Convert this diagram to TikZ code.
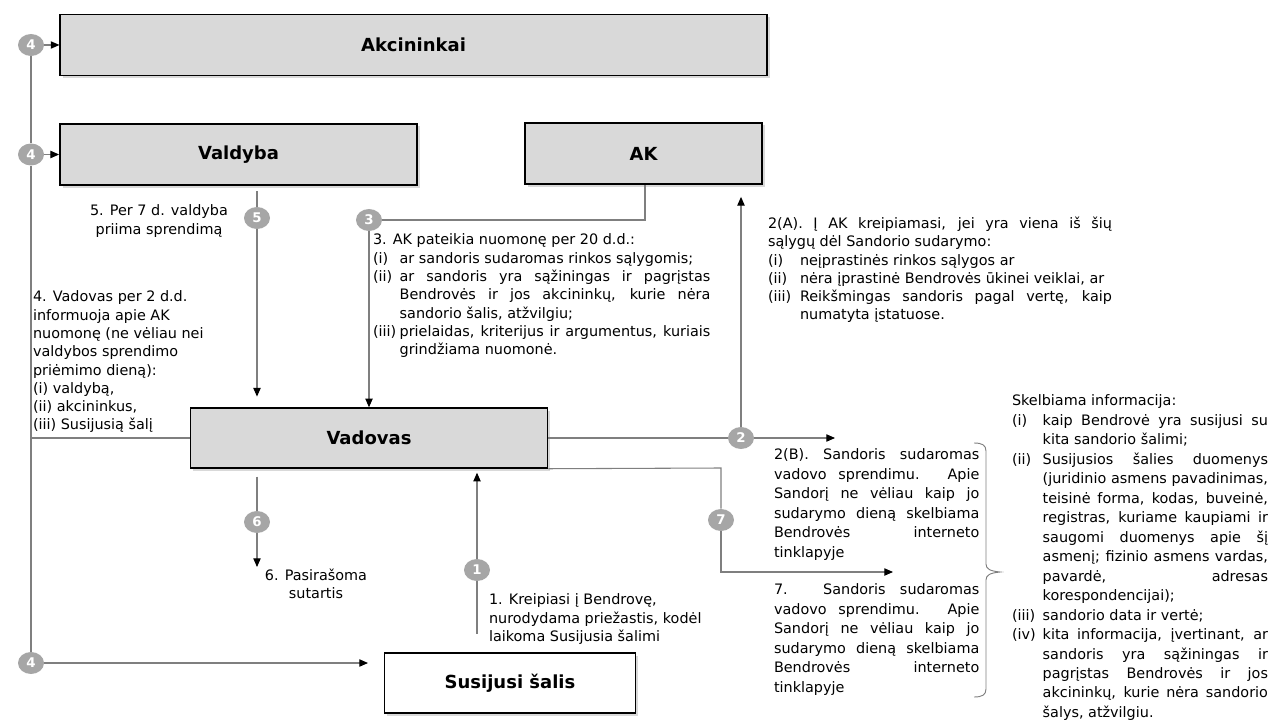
\documentclass[tikz,border=0pt]{standalone}
\usepackage{fontspec}
\setmainfont{DejaVu Sans}
\newfontfamily\boldlab{DejaVu Sans}
\usetikzlibrary{arrows.meta,shadows,shapes.geometric}
\definecolor{boxgray}{RGB}{217,217,217}
\definecolor{badgegray}{RGB}{166,166,166}
\definecolor{linegray}{RGB}{127,127,127}
\setlength\parindent{0pt}
\newcommand\li[2]{\par\leftskip=#1\relax\noindent\llap{\makebox[#1][l]{#2}}\ignorespaces}
\tikzset{
  box/.style={draw=black, line width=1.1pt, fill=boxgray,
    drop shadow={shadow xshift=2pt, shadow yshift=-2pt, opacity=0.3},
    font=\boldlab\bfseries\fontsize{13.5}{15}\selectfont, inner sep=0pt},
  badge/.style={ellipse, fill=badgegray, text=white, minimum width=19.5pt, minimum height=16.5pt,
    inner sep=0pt, font=\boldlab\bfseries\fontsize{10}{10}\selectfont},
  conn/.style={draw=linegray, line width=0.8pt},
  arr/.style={conn, -{Triangle[length=6.5pt,width=5.5pt,color=black]}},
  txt/.style={font=\fontsize{10.8}{13.7}\selectfont, inner sep=0pt, outer sep=0pt},
  jtxt/.style={txt, align=justify, anchor=north west,
    execute at begin node={\tolerance=10000\hbadness=10000\leftskip=0pt\noindent}},
  wide/.style={font=\fontsize{10.8}{14.6}\selectfont},
}
\begin{document}
\begin{tikzpicture}[x=0.75pt,y=-0.75pt]
\useasboundingbox (0,0) rectangle (1270,720);
% boxes
\node[box, minimum width=530pt, minimum height=46pt] (akc) at (413.5,45) {Akcininkai};
\node[box, minimum width=268pt, minimum height=46pt] (val) at (238.5,154.5) {Valdyba};
\node[box, minimum width=178pt, minimum height=46pt] (ak) at (643.5,153.5) {AK};
\node[box, minimum width=268pt, minimum height=45pt] (vad) at (369,438) {Vadovas};
\node[box, fill=white, minimum width=188pt, minimum height=45pt] (sus) at (510,683) {Susijusi šalis};
% badges
\node[badge] (b4a) at (31,45) {4};
\node[badge] (b4b) at (31,154.5) {4};
\node[badge] (b4c) at (31,663) {4};
\node[badge] (b5) at (257,218) {5};
\node[badge] (b3) at (369,220) {3};
\node[badge] (b2) at (741,438) {2};
\node[badge] (b6) at (257,522) {6};
\node[badge] (b1) at (477,570) {1};
\node[badge] (b7) at (721,520) {7};
% free ends
\coordinate (k3) at (645,220);
\coordinate (t2) at (835,438);
\coordinate (k7) at (721,468);
\coordinate (t7) at (893,572);
\coordinate (t6) at (257,567);
\coordinate (t4) at (368,663);
% connectors
\draw[conn] (b4a) -- (b4b);
\draw[conn] (b4b) -- (b4c);
\draw[arr] (b4a) -- (akc.west);
\draw[arr] (b4b) -- (val.west);
\draw[conn] (vad.west) -- (vad.west -| b4a);
\draw[arr] (b4c) -- (t4);
\draw[conn, shorten <=4pt] (b5 |- val.south) -- (b5);
\draw[arr, shorten >=8pt] (b5) -- (b5 |- vad.north);
\draw[arr] (b3) -- (b3 |- vad.north);
\draw[conn] (b3) -- (k3) -- (k3 |- ak.south);
\draw[conn] (vad.east) -- (b2);
\draw[arr] (b2) -- (t2);
\draw[arr, shorten >=9pt] (b2) -- (b2 |- ak.south);
\draw[conn] (vad.south east) -- (k7) -- (b7);
\draw[arr] (b7) |- (t7);
\draw[conn, shorten <=6pt] (b6 |- vad.south) -- (b6);
\draw[arr] (b6) -- (t6);
\draw[conn, shorten <=14pt] (b1 |- sus.north) -- (b1);
\draw[arr, shorten >=3pt] (b1) -- (b1 |- vad.south);
% brace
\draw[linegray, line width=0.7pt] (974,443) .. controls (982,443) and (986,445) .. (986,451) -- (986,564)
  .. controls (986,569) and (990,571) .. (1000,572) .. controls (990,573) and (986,575) .. (986,580)
  -- (986,689) .. controls (986,695) and (982,697) .. (974,697);
% texts
\node[txt, align=center] (t5l) at (159,221) {5. Per 7 d. valdyba\\priima sprendimą};
\node[jtxt, text width=253pt] (t3l) at (373,234) {3. AK pateikia nuomonę per 20 d.d.:
\li{20pt}{(i)}ar sandoris sudaromas rinkos sąlygomis;
\li{20pt}{(ii)}ar sandoris yra sąžiningas ir pagrįstas\linebreak Bendrovės ir jos akcininkų, kurie nėra\linebreak sandorio šalis, atžvilgiu;
\li{20pt}{(iii)}prielaidas, kriterijus ir argumentus, kuriais\linebreak grindžiama nuomonė.\par};
\node[jtxt, text width=258pt] (t2a) at (768,217) {2(A). Į AK kreipiamasi, jei yra viena iš šių\linebreak sąlygų dėl Sandorio sudarymo:
\li{24pt}{(i)}neįprastinės rinkos sąlygos ar
\li{24pt}{(ii)}nėra įprastinė Bendrovės ūkinei veiklai, ar
\li{24pt}{(iii)}Reikšmingas sandoris pagal vertę, kaip\linebreak numatyta įstatuose.\par};
\node[txt, anchor=north west, align=left] (t4l) at (33,291) {4. Vadovas per 2 d.d.\\informuoja apie AK\\nuomonę (ne vėliau nei\\valdybos sprendimo\\priėmimo dieną):\\(i) valdybą,\\(ii) akcininkus,\\(iii) Susijusią šalį};
\node[jtxt, wide, text width=154pt] (t2b) at (774,449) {2(B). Sandoris sudaromas\linebreak vadovo sprendimu. Apie\linebreak Sandorį ne vėliau kaip jo\linebreak sudarymo dieną skelbiama\linebreak Bendrovės interneto\linebreak tinklapyje\par};
\node[jtxt, wide, text width=154pt] (t7l) at (774,584) {7. Sandoris sudaromas\linebreak vadovo sprendimu. Apie\linebreak Sandorį ne vėliau kaip jo\linebreak sudarymo dieną skelbiama\linebreak Bendrovės interneto\linebreak tinklapyje\par};
\node[txt, align=center, anchor=north] (t6l) at (316,569) {6. Pasirašoma\\sutartis};
\node[txt, anchor=north west, align=left] (t1l) at (489,594) {1. Kreipiasi į Bendrovę,\\nurodydama priežastis, kodėl\\laikoma Susijusia šalimi};
\node[jtxt, wide, text width=192pt] (skl) at (1012,395) {Skelbiama informacija:
\li{23pt}{(i)}kaip Bendrovė yra susijusi su\linebreak kita sandorio šalimi;
\li{23pt}{(ii)}Susijusios šalies duomenys\linebreak (juridinio asmens pavadinimas,\linebreak teisinė forma, kodas, buveinė,\linebreak registras, kuriame kaupiami ir\linebreak saugomi duomenys apie šį\linebreak asmenį; fizinio asmens vardas,\linebreak pavardė, adresas\linebreak korespondencijai);
\li{23pt}{(iii)}sandorio data ir vertė;
\li{23pt}{(iv)}kita informacija, įvertinant, ar\linebreak sandoris yra sąžiningas ir\linebreak pagrįstas Bendrovės ir jos\linebreak akcininkų, kurie nėra sandorio\linebreak šalys, atžvilgiu.\par};
\end{tikzpicture}
\end{document}
